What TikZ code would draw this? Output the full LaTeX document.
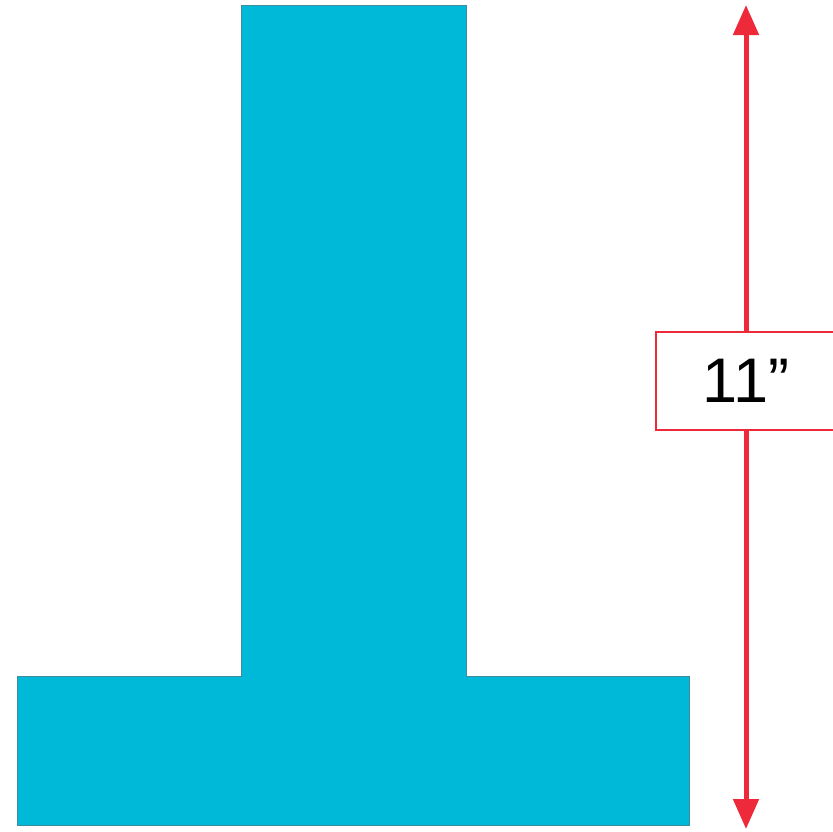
\documentclass[tikz,border=0pt]{standalone}
\usepackage{fontspec}
\setmainfont{Liberation Sans}
\usepackage{xcolor}
\usetikzlibrary{arrows.meta,positioning}
\definecolor{tcyan}{HTML}{00B8D8}
\definecolor{tedge}{HTML}{3E8C9C}
\definecolor{dimred}{HTML}{EE2A3A}
\tikzset{
  tshape/.style  = {fill=tcyan, draw=tedge, line width=0.8pt},
  dimline/.style = {{Triangle[length=30pt,width=25pt]}-{Triangle[length=30pt,width=25pt]},
                    dimred, line width=5pt},
  dimlab/.style  = {draw=dimred, fill=white, line width=2pt, minimum width=184pt,
                    minimum height=98pt, inner sep=0pt},
}

\begin{document}
\begin{tikzpicture}[x=1pt,y=-1pt]
  \useasboundingbox (0,0) rectangle (833,831);
  % the T
  \draw[tshape] (241,5) -- (466,5) -- (466,676) -- (689,676) -- (689,825)
    -- (17,825) -- (17,676) -- (241,676) -- cycle;
  % dimension
  \coordinate (top) at (746,5);
  \coordinate (bot) at (746,829);
  \draw[dimline] (bot) -- (top);
  \node[dimlab, anchor=west] (lab) at (655,381) {};
  \node[font=\fontsize{63}{63}\selectfont] (val) at (746,381) {11”};
\end{tikzpicture}
\end{document}
